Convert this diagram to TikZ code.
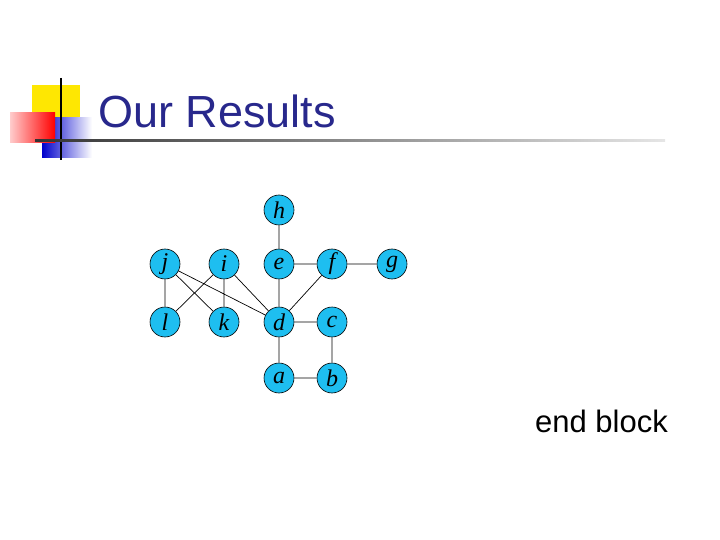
\documentclass[tikz,border=0pt]{standalone}
\usepackage{fontspec}
\setmainfont{Liberation Sans}
\newfontfamily\lettersf{Liberation Serif}
\usetikzlibrary{shadings}
\definecolor{titleblue}{RGB}{40,40,140}
\definecolor{nodecyan}{RGB}{30,190,240}
\begin{document}
\begin{tikzpicture}[x=1pt,y=-1pt,
  vtx/.style={circle,draw=black,line width=0.6pt,fill=nodecyan,minimum size=30pt,inner sep=0pt,font=\lettersf\itshape\fontsize{24}{24}\selectfont},
  edge/.style={line width=0.7pt}]
\useasboundingbox (0,0) rectangle (720,540);
% decoration
\fill[yellow!90!orange] (32,85) rectangle (80,130);
\shade[left color=blue!80!black,right color=white] (42,118) rectangle (92,158);
\shade[left color=red!20,right color=red] (10,113) rectangle (55,143);
\draw[line width=2pt] (61,78) -- (61,160);
\shade[left color=black!80,right color=black!10] (35,139.5) rectangle (665,142);
\node[anchor=base west,text=titleblue,font=\fontsize{45}{45}\selectfont,inner sep=0pt] (title) at (98,128) {Our Results};
% graph
\node[vtx] (h) at (279,210) {h};
\node[vtx] (j) at (165,264) {j};
\node[vtx] (i) at (224,264) {i};
\node[vtx] (e) at (279,264) {e};
\node[vtx] (f) at (332,264) {f};
\node[vtx] (g) at (392,264) {g};
\node[vtx] (l) at (165,322) {l};
\node[vtx] (k) at (224,322) {k};
\node[vtx] (d) at (279,322) {d};
\node[vtx] (c) at (332,322) {c};
\node[vtx] (a) at (279,378) {a};
\node[vtx] (b) at (332,378) {b};
\draw[edge] (h)--(e) (e)--(f) (f)--(g) (e)--(d) (f)--(d) (j)--(l) (j)--(k) (j)--(d)
  (i)--(l) (i)--(k) (i)--(d) (d)--(c) (d)--(a) (a)--(b) (c)--(b);
\node[anchor=base east,font=\fontsize{31}{31}\selectfont,inner sep=0pt] (endb) at (668,432) {end block};
\end{tikzpicture}
\end{document}
